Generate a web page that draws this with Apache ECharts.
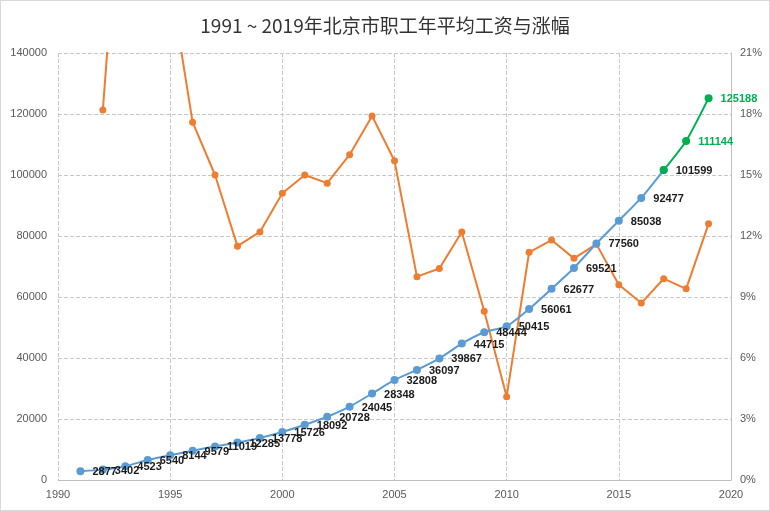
<!DOCTYPE html>
<html>
<head>
<meta charset="utf-8">
<script src="https://cdn.jsdelivr.net/npm/echarts@6/dist/echarts.min.js"></script>
<style>
html,body{margin:0;padding:0;background:#fff;}
#c{width:768px;height:509px;border:1px solid #d9d9d9;}
</style>
</head>
<body>
<div id="c"></div>
<script>
var years = [1991,1992,1993,1994,1995,1996,1997,1998,1999,2000,2001,2002,2003,2004,2005,2006,2007,2008,2009,2010,2011,2012,2013,2014,2015,2016,2017,2018,2019];
var wages = [2877,3402,4523,6540,8144,9579,11019,12285,13778,15726,18092,20728,24045,28348,32808,36097,39867,44715,48444,50415,56061,62677,69521,77560,85038,92477,101599,111144,125188];
// growth rate in %, null for first year
var growth = [null,18.2,33.0,44.6,24.5,17.6,15.0,11.5,12.2,14.1,15.0,14.6,16.0,17.9,15.7,10.0,10.4,12.2,8.3,4.1,11.2,11.8,10.9,11.6,9.6,8.7,9.9,9.4,12.6];
var actualLastYear = 2017; // years after this drawn in green
var leftTicks = {min:0,max:140000,interval:20000};
var rightTicks = {min:0,max:21,interval:3};
var xTicks = {min:1990,max:2020,interval:5};

var blueData = [], greenData = [], orangeData = [];
for (var i=0;i<years.length;i++){
  if (years[i] <= actualLastYear) blueData.push([years[i], wages[i]]);
  if (years[i] >= actualLastYear) greenData.push([years[i], wages[i]]);
  if (growth[i] !== null) orangeData.push([years[i], growth[i]]);
}

var chart = echarts.init(document.getElementById('c'));
var axisLabelStyle = {color:'#595959', fontSize:11, fontFamily:'Liberation Sans, Arial, sans-serif'};
var plain = function(v){return String(v);};
chart.setOption({
  animation:false,
  title:{
    text:'1991 ~ 2019年北京市职工年平均工资与涨幅',
    left:'center', top:10,
    textStyle:{fontSize:19, fontWeight:'normal', color:'#333', fontFamily:'Noto Sans CJK SC, sans-serif'}
  },
  grid:{left:57, right:38, top:52, bottom:30, containLabel:false},
  xAxis:{
    type:'value', min:xTicks.min, max:xTicks.max, interval:xTicks.interval,
    axisLine:{show:true, lineStyle:{color:'#bfbfbf'}},
    axisTick:{show:false},
    axisLabel:Object.assign({margin:9, formatter:plain}, axisLabelStyle),
    splitLine:{show:true, lineStyle:{type:'dashed', color:'#c8c8c8'}}
  },
  yAxis:[{
    type:'value', min:leftTicks.min, max:leftTicks.max, interval:leftTicks.interval,
    axisLine:{show:false}, axisTick:{show:false},
    axisLabel:Object.assign({margin:11, formatter:plain}, axisLabelStyle),
    splitLine:{show:true, lineStyle:{type:'dashed', color:'#c8c8c8'}}
  },{
    type:'value', min:rightTicks.min, max:rightTicks.max, interval:rightTicks.interval,
    position:'right',
    axisLine:{show:true, lineStyle:{color:'#bfbfbf'}}, axisTick:{show:false},
    axisLabel:Object.assign({margin:9, formatter:'{value}%'}, axisLabelStyle),
    splitLine:{show:false}
  }],
  series:[{
    type:'line', yAxisIndex:1, data:orangeData,
    symbol:'circle', symbolSize:7, clip:true,
    lineStyle:{color:'#ed7d31', width:2},
    itemStyle:{color:'#ed7d31'},
    z:2
  },{
    type:'line', yAxisIndex:0, data:blueData, smooth:0.2,
    symbol:'circle', symbolSize:8,
    lineStyle:{color:'#5b9bd5', width:2},
    itemStyle:{color:'#5b9bd5'},
    label:{show:true, position:'right', distance:8, offset:[0,1],
      formatter:function(p){return p.value[1];},
      color:'#1a1a1a', fontSize:11, fontWeight:'bold', fontFamily:'Liberation Sans, Arial, sans-serif'},
    z:3
  },{
    type:'line', yAxisIndex:0, data:greenData, smooth:0.2,
    symbol:'circle', symbolSize:8,
    lineStyle:{color:'#00b050', width:2},
    itemStyle:{color:'#00b050'},
    label:{show:true, position:'right', distance:8, offset:[0,1],
      formatter:function(p){return p.value[0] > actualLastYear ? p.value[1] : '';},
      color:'#00b050', fontSize:11, fontWeight:'bold', fontFamily:'Liberation Sans, Arial, sans-serif'},
    z:3
  }]
});
</script>
</body>
</html>
